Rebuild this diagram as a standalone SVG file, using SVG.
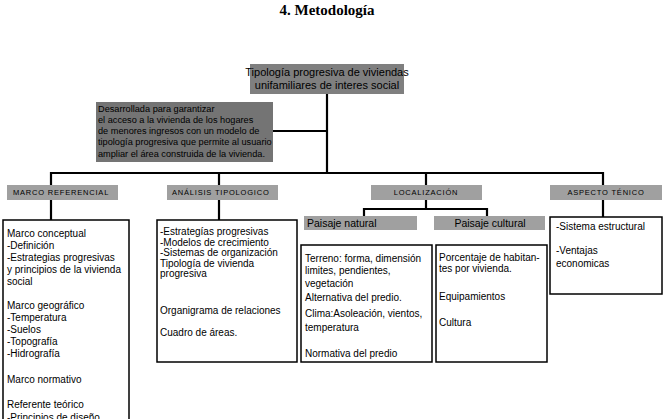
<svg xmlns="http://www.w3.org/2000/svg" width="667" height="419" viewBox="0 0 667 419">
<style>
.t{font-family:"Liberation Sans",Arial,sans-serif;fill:#000}
.title{font-family:"Liberation Serif","Times New Roman",serif;font-weight:bold;font-size:15px;fill:#000}
.cat{fill:#a0a0a0;stroke:none}
.catl{font-family:"Liberation Sans",Arial,sans-serif;font-size:7.5px;letter-spacing:0.8px;fill:#000}
.box{fill:#fff;stroke:#000;stroke-width:1.5}
.c{stroke:#000;stroke-width:2.2;fill:none}
.s10{font-size:10px}
.s9{font-size:9.2px}
.s11{font-size:11px}
.s105{font-size:10.5px}
</style>
<text class="title" x="327" y="15" text-anchor="middle">4. Metodología</text>

<g id="connectors">
<path class="c" d="M327 94 V173"/>
<path class="c" d="M273 131 H327"/>
<path class="c" d="M51 185 V173 H603 V185"/>
<path class="c" d="M219 173 V185"/>
<path class="c" d="M426 173 V185"/>
<path class="c" d="M51 200 V220"/>
<path class="c" d="M219 200 V220"/>
<path class="c" d="M426 200 V209"/>
<path class="c" d="M364 216 V209 H487 V216"/>
<path class="c" d="M603 200 V217"/>
</g>

<g id="top">
<rect x="250" y="64" width="154" height="30" fill="#7f7f7f"/>
<text class="t s11" x="327" y="76" text-anchor="middle">Tipología progresiva de viviendas</text>
<text class="t s11" x="327" y="89" text-anchor="middle">unifamiliares de interes social</text>
</g>

<g id="desc">
<rect x="96" y="102" width="177" height="60" fill="#747474"/>
<text class="t s9" x="98" y="112">Desarrollada para garantizar</text>
<text class="t s9" x="98" y="123">el acceso a la vivienda de los hogares</text>
<text class="t s9" x="98" y="134">de menores ingresos con un modelo de</text>
<text class="t s9" x="98" y="145">tipología progresiva que permite al usuario</text>
<text class="t s9" x="98" y="157">ampliar el área construida de la vivienda.</text>
</g>

<g id="marco">
<rect class="cat" x="7" y="185" width="111" height="15"/>
<text class="catl" x="13" y="195">MARCO REFERENCIAL</text>
</g>
<g id="analisis">
<rect class="cat" x="167" y="185" width="111" height="15"/>
<text class="catl" x="172" y="195">ANÁLISIS TIPOLOGICO</text>
</g>
<g id="localizacion">
<rect class="cat" x="371" y="185" width="111" height="15"/>
<text class="catl" x="426" y="195" text-anchor="middle">LOCALIZACIÓN</text>
</g>
<g id="aspecto">
<rect class="cat" x="550" y="185" width="112" height="15"/>
<text class="catl" x="606" y="195" text-anchor="middle">ASPECTO TÉNICO</text>
</g>

<g id="natural">
<rect class="cat" x="304" y="216" width="113" height="14"/>
<text class="t s105" x="307" y="227">Paisaje natural</text>
</g>
<g id="cultural">
<rect class="cat" x="434" y="216" width="111" height="14"/>
<text class="t s105" x="490" y="227" text-anchor="middle">Paisaje cultural</text>
</g>

<g id="marco-content">
<rect class="box" x="3" y="220" width="126" height="210"/>
<text class="t s10" x="7" y="237">Marco conceptual</text>
<text class="t s10" x="7" y="249">-Definición</text>
<text class="t s10" x="7" y="261">-Estrategias progresivas</text>
<text class="t s10" x="7" y="273">y principios de la vivienda</text>
<text class="t s10" x="7" y="285">social</text>
<text class="t s10" x="7" y="309">Marco geográfico</text>
<text class="t s10" x="7" y="321">-Temperatura</text>
<text class="t s10" x="7" y="333">-Suelos</text>
<text class="t s10" x="7" y="345">-Topografía</text>
<text class="t s10" x="7" y="357">-Hidrografía</text>
<text class="t s10" x="7" y="383">Marco normativo</text>
<text class="t s10" x="7" y="408">Referente teórico</text>
<text class="t s10" x="7" y="421">-Principios de diseño</text>
</g>

<g id="analisis-content">
<rect class="box" x="157" y="220" width="140" height="142"/>
<text class="t s10" x="160" y="235">-Estrategías progresivas</text>
<text class="t s10" x="160" y="245.5">-Modelos de crecimiento</text>
<text class="t s10" x="160" y="256">-Sistemas de organización</text>
<text class="t s10" x="160" y="266.5">Tipología de vivienda</text>
<text class="t s10" x="160" y="277">progresiva</text>
<text class="t s10" x="160" y="314">Organigrama de relaciones</text>
<text class="t s10" x="160" y="336">Cuadro de áreas.</text>
</g>

<g id="natural-content">
<rect class="box" x="301" y="245" width="131" height="117"/>
<text class="t s10" x="305" y="262">Terreno: forma, dimensión</text>
<text class="t s10" x="305" y="274">limites, pendientes,</text>
<text class="t s10" x="305" y="287">vegetación</text>
<text class="t s10" x="305" y="301">Alternativa del predio.</text>
<text class="t s10" x="305" y="317">Clima:Asoleación, vientos,</text>
<text class="t s10" x="305" y="331">temperatura</text>
<text class="t s10" x="305" y="357">Normativa del predio</text>
</g>

<g id="cultural-content">
<rect class="box" x="436" y="245" width="111" height="117"/>
<text class="t s10" x="439" y="261">Porcentaje de habitan-</text>
<text class="t s10" x="439" y="272">tes por vivienda.</text>
<text class="t s10" x="439" y="300">Equipamientos</text>
<text class="t s10" x="439" y="326">Cultura</text>
</g>

<g id="aspecto-content">
<rect class="box" x="550" y="217" width="112" height="77"/>
<text class="t s10" x="556" y="230">-Sistema estructural</text>
<text class="t s10" x="556" y="254">-Ventajas</text>
<text class="t s10" x="556" y="267">economicas</text>
</g>
</svg>
